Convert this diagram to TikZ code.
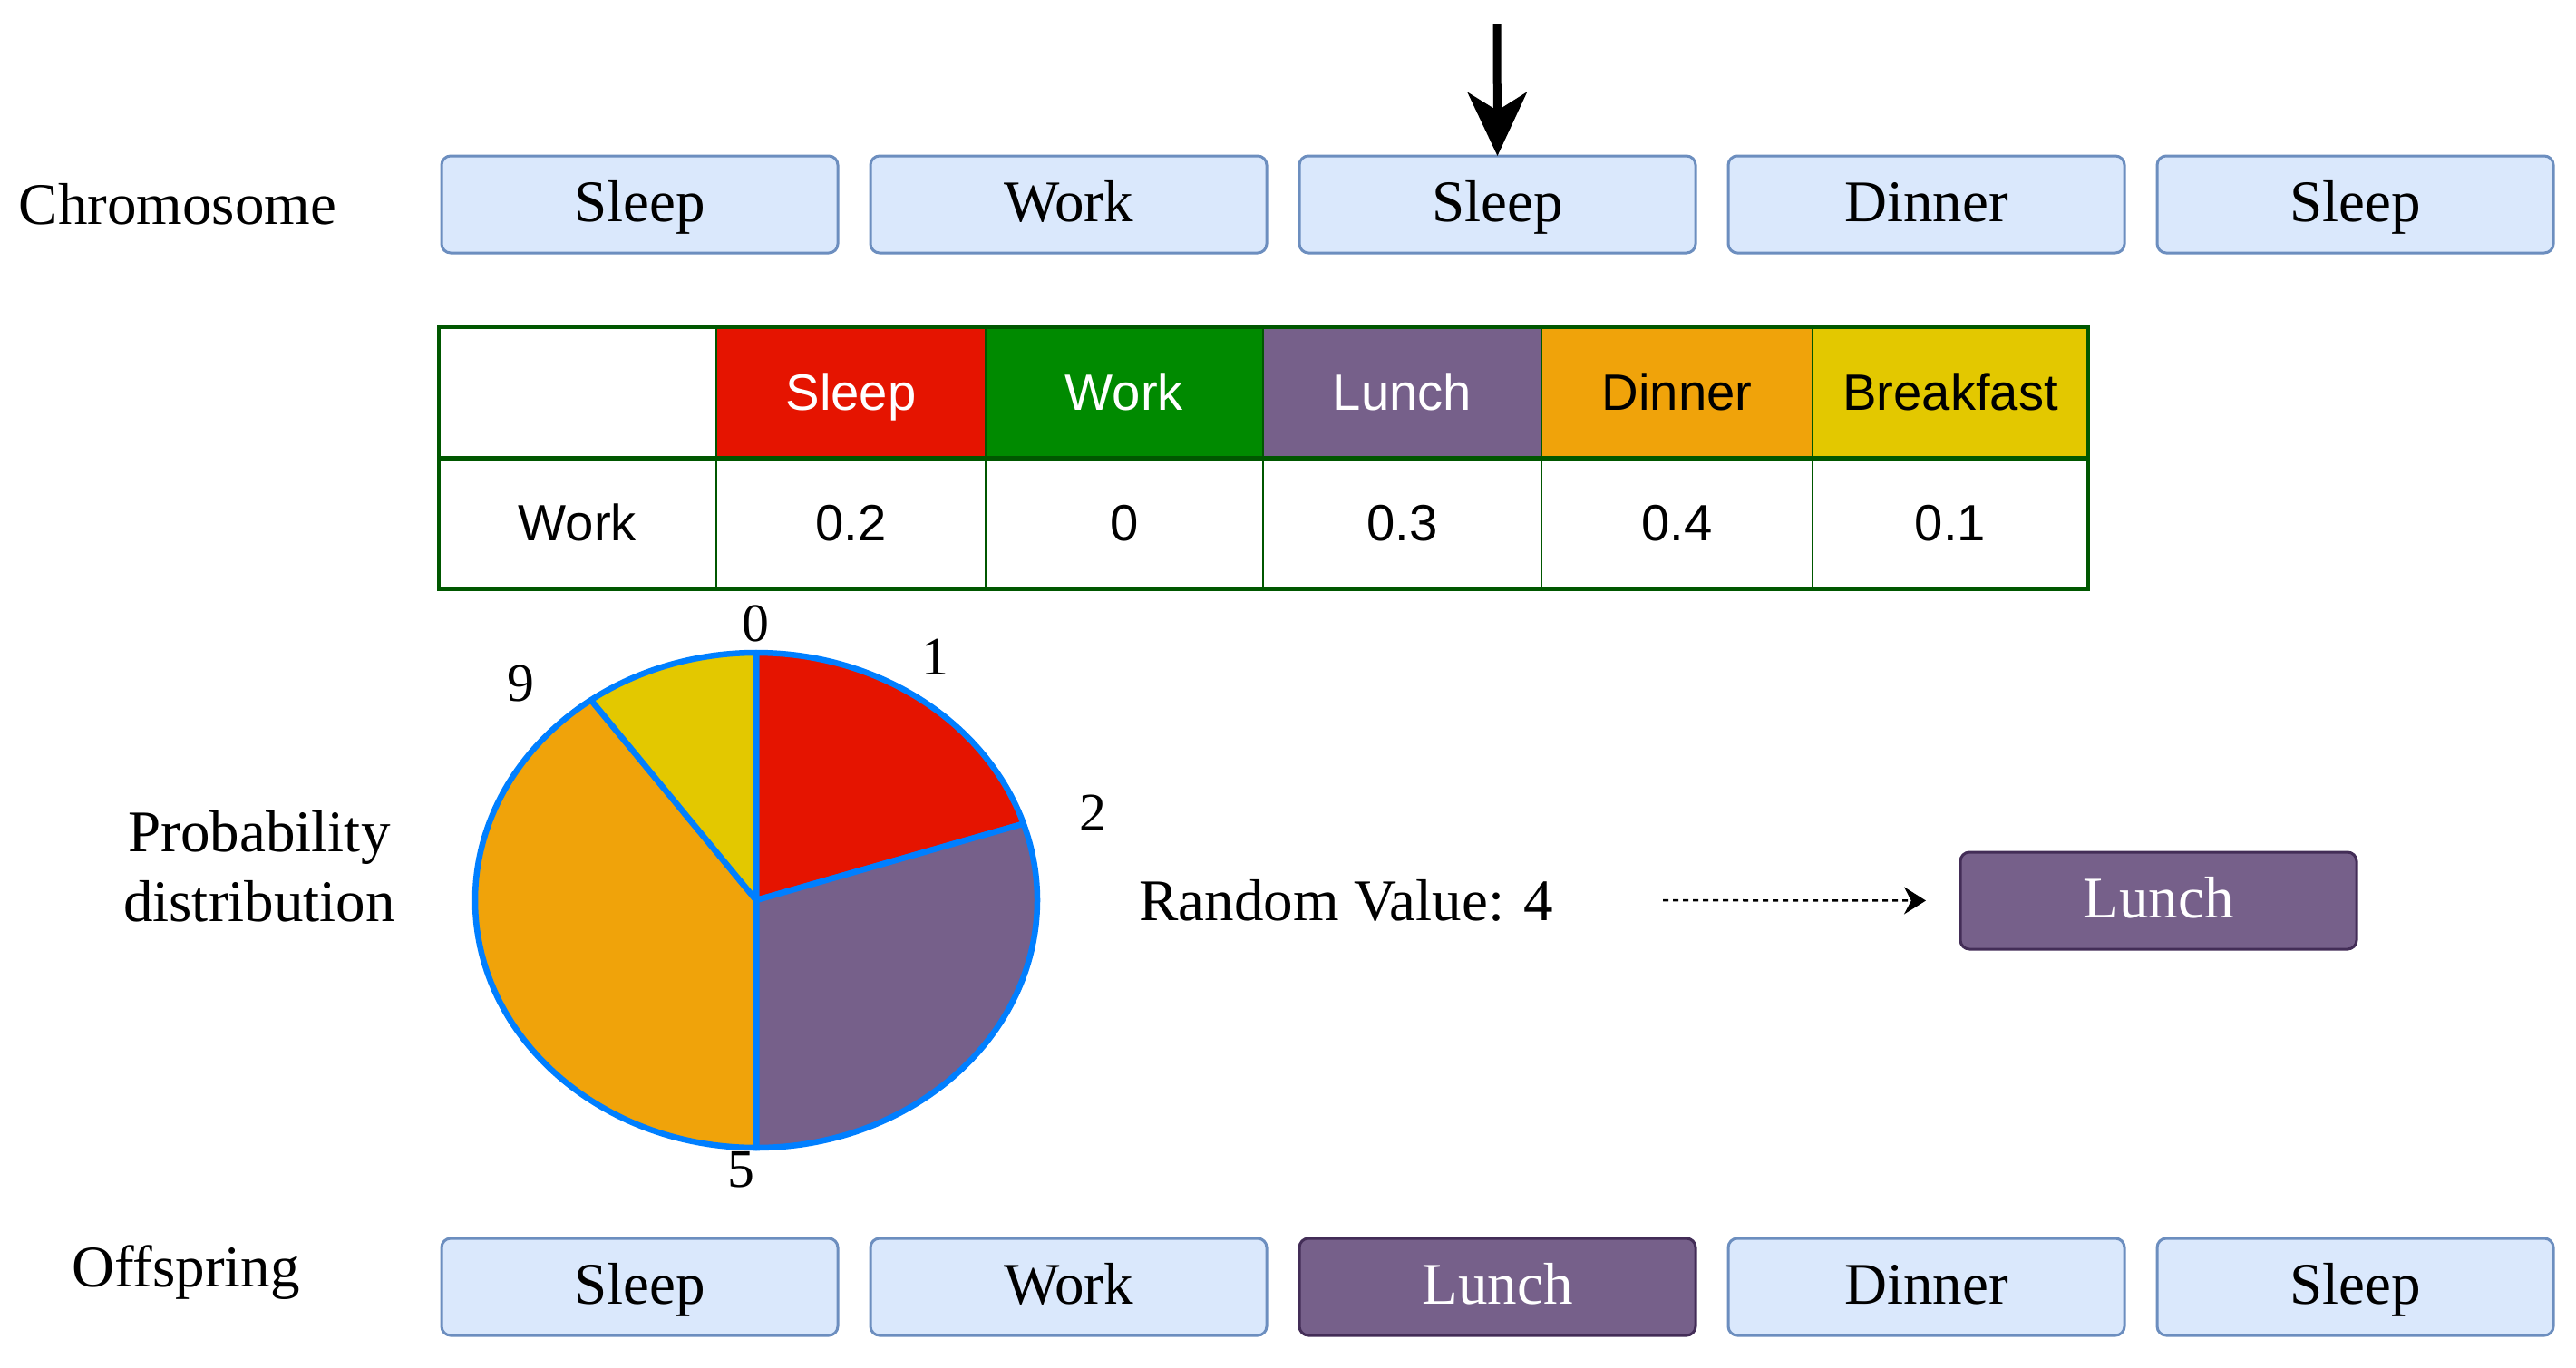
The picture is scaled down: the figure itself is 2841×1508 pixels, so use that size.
\documentclass[tikz,border=0pt]{standalone}
\usepackage{fontspec}
\setmainfont{Liberation Serif}
\newfontfamily\tabfont{Liberation Sans}
\usetikzlibrary{arrows.meta}
\definecolor{boxfill}{HTML}{DAE8FC}
\definecolor{boxline}{HTML}{6C8EBF}
\definecolor{cred}{HTML}{E51400}
\definecolor{cgreen}{HTML}{008A00}
\definecolor{cpurple}{HTML}{76608A}
\definecolor{cpurpleline}{HTML}{432D57}
\definecolor{corange}{HTML}{F0A30A}
\definecolor{cyellow}{HTML}{E3C800}
\definecolor{tline}{HTML}{005700}
\definecolor{pieline}{HTML}{007FFF}
\begin{document}
\begin{tikzpicture}[x=0.1mm,y=-0.1mm,
  txt/.style={font=\fontsize{18.5pt}{22pt}\selectfont, inner sep=0pt},
  gene/.style={draw=boxline, fill=boxfill, line width=0.3mm, rounded corners=1mm,
    minimum width=43.7mm, minimum height=10.7mm, inner sep=0pt, outer sep=0pt,
    text height=14pt, text depth=3pt,
    font=\fontsize{18.5pt}{22pt}\selectfont, anchor=north west},
  pgene/.style={gene, draw=cpurpleline, fill=cpurple, text=white},
  cell/.style={draw=tline, line width=0.25mm, anchor=north west, inner sep=0pt, outer sep=0pt,
    text height=13.5pt, text depth=2.5pt,
    minimum height=14.45mm, font=\tabfont\fontsize{16pt}{19pt}\selectfont},
  plabel/.style={font=\fontsize{17pt}{20pt}\selectfont, inner sep=0pt},
]
\useasboundingbox (0,0) rectangle (2841,1508);

% Chromosome row
\node[txt] (chrlab) at (196,225) {Chromosome};
\node[gene] (c1) at (487,172) {Sleep};
\node[gene] (c2) at (960,172) {Work};
\node[gene] (c3) at (1433,172) {Sleep};
\node[gene] (c4) at (1906,172) {Dinner};
\node[gene] (c5) at (2379,172) {Sleep};
\coordinate (atop) at (1651,27);
\draw[line width=0.9mm, -{Stealth[length=7mm, width=6.5mm, inset=2mm]}] (atop) -- (c3.north);

% Table
\node[cell, minimum width=30.6mm] (t00) at (484,361) {};
\node[cell, minimum width=29.7mm, fill=cred, text=white] (t01) at (790,361) {Sleep};
\node[cell, minimum width=30.6mm, fill=cgreen, text=white] (t02) at (1087,361) {Work};
\node[cell, minimum width=30.7mm, fill=cpurple, text=white] (t03) at (1393,361) {Lunch};
\node[cell, minimum width=29.9mm, fill=corange] (t04) at (1700,361) {Dinner};
\node[cell, minimum width=30.4mm, fill=cyellow] (t05) at (1999,361) {Breakfast};
\node[cell, minimum width=30.6mm] (t10) at (484,505) {Work};
\node[cell, minimum width=29.7mm] (t11) at (790,505) {0.2};
\node[cell, minimum width=30.6mm] (t12) at (1087,505) {0};
\node[cell, minimum width=30.7mm] (t13) at (1393,505) {0.3};
\node[cell, minimum width=29.9mm] (t14) at (1700,505) {0.4};
\node[cell, minimum width=30.4mm] (t15) at (1999,505) {0.1};
\draw[tline, line width=0.45mm] (t00.north west) rectangle (t15.south east);
\draw[tline, line width=0.45mm] (t00.south west) -- (t05.south east);

% Pie
\begin{scope}[shift={(834,993)}, yscale=-1, draw=pieline, line width=0.65mm, line join=round]
  \filldraw[fill=cred] (0,0) -- (90:310 and 273) arc[start angle=90, end angle=18, x radius=310, y radius=273] -- cycle;
  \filldraw[fill=cpurple] (0,0) -- (18:310 and 273) arc[start angle=18, end angle=-90, x radius=310, y radius=273] -- cycle;
  \filldraw[fill=corange] (0,0) -- (270:310 and 273) arc[start angle=270, end angle=126, x radius=310, y radius=273] -- cycle;
  \filldraw[fill=cyellow] (0,0) -- (126:310 and 273) arc[start angle=126, end angle=90, x radius=310, y radius=273] -- cycle;
\end{scope}
\node[plabel] (p0) at (833,688) {0};
\node[plabel] (p1) at (1031,725) {1};
\node[plabel] (p2) at (1205,897) {2};
\node[plabel] (p9) at (574,754) {9};
\node[plabel] (p5) at (817,1290) {5};

\node[txt, align=center] (pdlab) at (286,956) {Probability\\distribution};
\node[txt] (rv) at (1485,993) {Random Value: 4};
\node[pgene] (rl) at (2162,940) {Lunch};
\draw[line width=0.25mm, dash pattern=on 0.6mm off 0.5mm, -{Stealth[length=2.4mm, width=3mm]},
  shorten <=12mm, shorten >=3.8mm] (rv.east) -- (rl.west);

% Offspring row
\node[txt] (offlab) at (205,1404) {Offspring};
\node[gene] (o1) at (487,1366) {Sleep};
\node[gene] (o2) at (960,1366) {Work};
\node[pgene] (o3) at (1433,1366) {Lunch};
\node[gene] (o4) at (1906,1366) {Dinner};
\node[gene] (o5) at (2379,1366) {Sleep};
\end{tikzpicture}
\end{document}
